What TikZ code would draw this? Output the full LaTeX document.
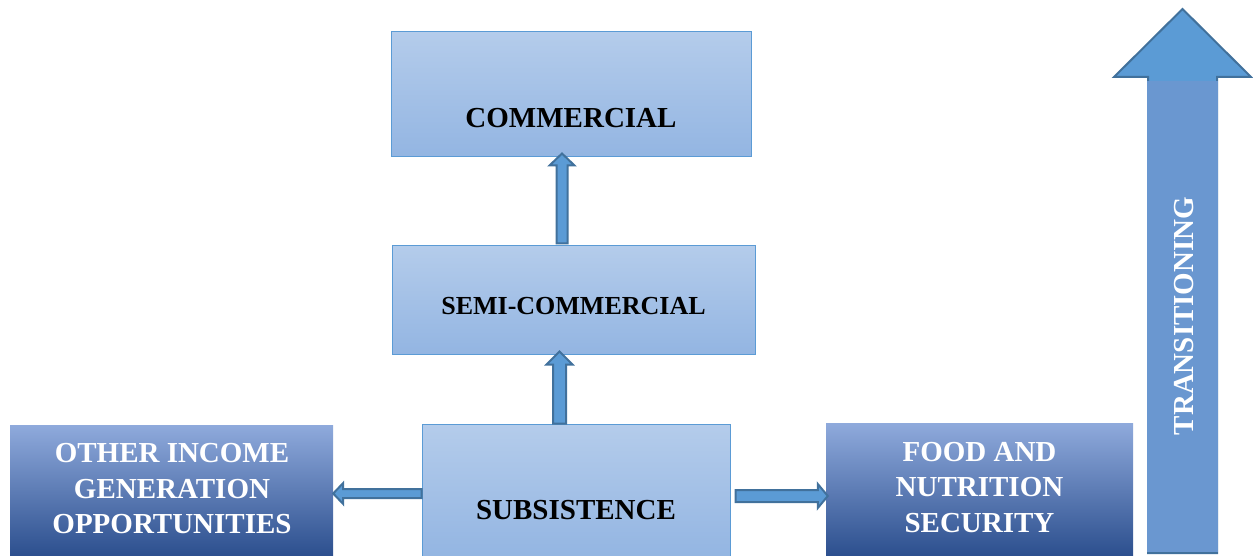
\documentclass[tikz,border=0pt]{standalone}
\usepackage{fontspec}
\setmainfont{Liberation Serif}
\usetikzlibrary{calc}
\definecolor{lightTop}{HTML}{B4CCEB}
\definecolor{lightBot}{HTML}{93B5E2}
\definecolor{boxLine}{HTML}{5B9BD5}
\definecolor{darkTop}{HTML}{8FAADC}
\definecolor{darkMid}{HTML}{4A70BD}
\definecolor{darkBot}{HTML}{2C4F8E}
\definecolor{arrowFill}{HTML}{5B9BD5}
\definecolor{arrowLine}{HTML}{41719C}
\definecolor{shaftFill}{HTML}{6A97D0}
\tikzset{
  lightbox/.style={draw=boxLine, line width=1pt, top color=lightTop, bottom color=lightBot, inner sep=0pt},
  darkbox/.style={top color=darkTop, middle color=darkMid, bottom color=darkBot, inner sep=0pt},
  blk/.style={fill=arrowFill, draw=arrowLine, line width=2pt, line join=miter},
  labeltxt/.style={font=\bfseries\fontsize{29}{35.5}\selectfont, align=center, inner sep=0pt, text=black},
  whitetxt/.style={labeltxt, text=white},
}
% vertical block arrow: #1 start (bottom), #2 tip, #3 shaft half, #4 head half, #5 head length
\newcommand\blkvert[5]{%
  \path[blk] let \p1=(#1), \p2=(#2) in
    (\x2,\y2) -- (\x2+#4,\y2-#5) -- (\x2+#3,\y2-#5) -- (\x2+#3,\y1) --
    (\x2-#3,\y1) -- (\x2-#3,\y2-#5) -- (\x2-#4,\y2-#5) -- cycle;}
% horizontal block arrow: #1 start, #2 tip, #3 shaft half, #4 head half, #5 signed head offset
\newcommand\blkhorz[5]{%
  \path[blk] let \p1=(#1), \p2=(#2) in
    (\x2,\y2) -- (\x2#5,\y2+#4) -- (\x2#5,\y2+#3) -- (\x1,\y2+#3) --
    (\x1,\y2-#3) -- (\x2#5,\y2-#3) -- (\x2#5,\y2-#4) -- cycle;}
\begin{document}
\begin{tikzpicture}[x=1pt,y=-1pt]
\useasboundingbox (0,0) rectangle (1253,556);
% boxes
\node[lightbox, minimum width=360, minimum height=125] (comm) at (571,94.5) {};
\node[lightbox, minimum width=363, minimum height=108] (semi) at (573.5,300) {};
\node[lightbox, minimum width=308, minimum height=134] (subs) at (576,491) {};
\node[darkbox, minimum width=323, minimum height=131] (other) at (171.5,490.5) {};
\node[darkbox, minimum width=307, minimum height=133] (food) at (979.5,489.5) {};
% texts
\node[labeltxt] (commtxt) at (571,118) {COMMERCIAL};
\node[labeltxt, font=\bfseries\fontsize{26}{32}\selectfont] (semitxt) at (573.5,306) {SEMI-COMMERCIAL};
\node[labeltxt] (substxt) at (576,510) {SUBSISTENCE};
\node[whitetxt] (othertxt) at (172,489) {OTHER INCOME\\GENERATION\\OPPORTUNITIES};
\node[whitetxt] (foodtxt) at (979.5,487.5) {FOOD AND\\NUTRITION\\SECURITY};
% connectors
\coordinate (a1s) at ($(semi.north)+(-11.5,-2)$);
\coordinate (a1t) at ($(comm.south)+(-9,-4)$);
\blkvert{a1s}{a1t}{5.5pt}{12.5pt}{12pt}
\coordinate (a2s) at ($(subs.north)+(-16.5,0)$);
\coordinate (a2t) at ($(semi.south)+(-14,-3)$);
\blkvert{a2s}{a2t}{6.5pt}{13pt}{13pt}
\coordinate (a3s) at ($(subs.west)+(0,3)$);
\coordinate (a3t) at ($(other.east)+(0,3)$);
\blkhorz{a3s}{a3t}{4.5pt}{10.5pt}{+10pt}
\coordinate (a4s) at ($(subs.east)+(5,5)$);
\coordinate (a4t) at ($(food.west)+(2,6.5)$);
\blkhorz{a4s}{a4t}{6pt}{12pt}{-10pt}
% big transitioning arrow
\path[blk] (1182.5,9) -- (1251,77) -- (1217,77) -- (1217,553) -- (1148,553) -- (1148,77) -- (1114,77) -- cycle;
\fill[shaftFill] (1147,81) rectangle (1218,552);
\node[whitetxt, rotate=90] (trans) at (1184,316) {TRANSITIONING};
\end{tikzpicture}
\end{document}
